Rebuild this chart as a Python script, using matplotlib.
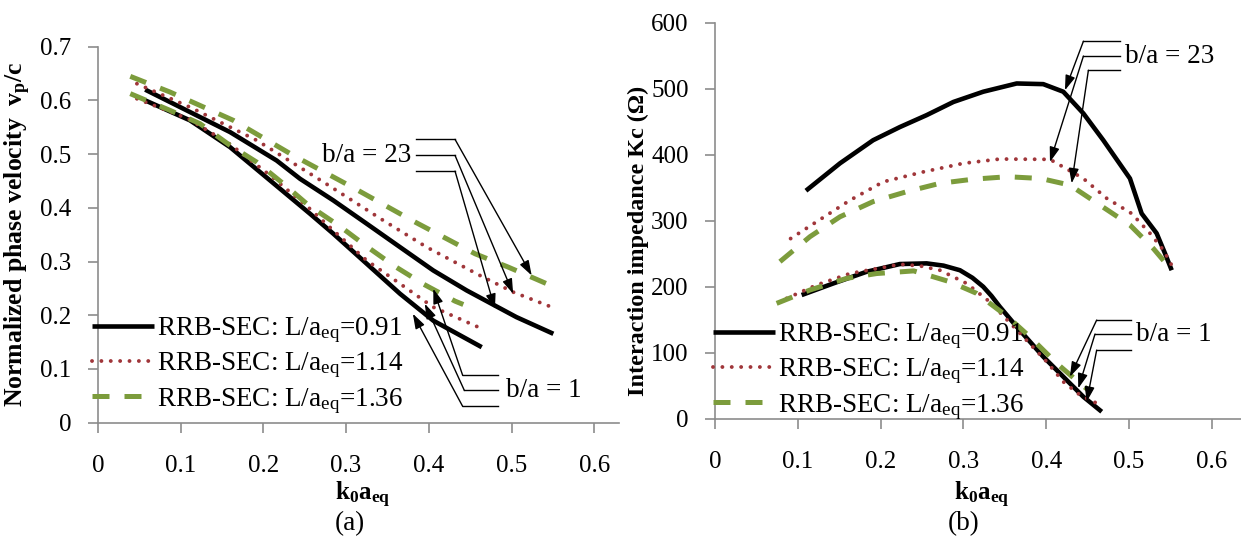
import matplotlib
matplotlib.use("Agg")
import matplotlib.pyplot as plt

plt.rcParams["font.family"] = ["Liberation Serif", "DejaVu Serif"]
plt.rcParams["mathtext.fontset"] = "custom"
plt.rcParams["mathtext.rm"] = "Liberation Serif"
plt.rcParams["mathtext.it"] = "Liberation Serif:italic"
plt.rcParams["mathtext.bf"] = "Liberation Serif:bold"
plt.rcParams["mathtext.default"] = "regular"

# (a) normalized phase velocity, b/a = 23
va23_091_x = [0.057, 0.1596, 0.216, 0.2443, 0.2845, 0.3249, 0.3652, 0.4054, 0.4458, 0.506, 0.5506]
va23_091_y = [0.620, 0.541, 0.488, 0.454, 0.4138, 0.3704, 0.3268, 0.2834, 0.2462, 0.1965, 0.1655]
va23_114_x = [0.047, 0.111, 0.192, 0.2725, 0.345, 0.3974, 0.4619, 0.5022, 0.5506]
va23_114_y = [0.631, 0.5875, 0.5255, 0.448, 0.3765, 0.3268, 0.274, 0.243, 0.214]
va23_136_x = [0.039, 0.087, 0.1636, 0.236, 0.3087, 0.3813, 0.4559, 0.4961, 0.5426]
va23_136_y = [0.6447, 0.6155, 0.5628, 0.4976, 0.4374, 0.3752, 0.3145, 0.2896, 0.2587]
# (a) b/a = 1
va1_091_x = [0.057, 0.1112, 0.1596, 0.208, 0.2563, 0.2845, 0.3249, 0.3652, 0.4054, 0.464]
va1_091_y = [0.600, 0.5628, 0.513, 0.451, 0.389, 0.3518, 0.2959, 0.240, 0.190, 0.1406]
va1_114_x = [0.047, 0.110, 0.160, 0.210, 0.2563, 0.2845, 0.3249, 0.3652, 0.4054, 0.460]
va1_114_y = [0.603, 0.565, 0.518, 0.458, 0.398, 0.3579, 0.302, 0.2587, 0.2151, 0.1778]
va1_136_x = [0.039, 0.087, 0.1233, 0.1596, 0.1919, 0.224, 0.2543, 0.2926, 0.3249, 0.3591, 0.3942, 0.4317, 0.4417]
va1_136_y = [0.6125, 0.5814, 0.5566, 0.5162, 0.485, 0.445, 0.405, 0.3654, 0.3281, 0.2909, 0.2574, 0.2263, 0.220]

# (b) interaction impedance, b/a = 23
kc23_091_x = [0.1099, 0.151, 0.191, 0.2234, 0.2556, 0.288, 0.324, 0.3644, 0.3965, 0.4207, 0.4449, 0.469, 0.5012, 0.5153, 0.5334, 0.5435, 0.5516]
kc23_091_y = [345.5, 387, 422, 442, 460, 480, 495.5, 508, 507, 495.5, 462.7, 422, 364, 311, 281, 250.6, 225]
kc23_114_x = [0.0914, 0.1228, 0.163, 0.2033, 0.2516, 0.300, 0.344, 0.4046, 0.4449, 0.4731, 0.5032, 0.5254, 0.5415, 0.5536]
kc23_114_y = [273, 298.5, 331, 359, 374, 387, 393.5, 393, 364, 334, 311, 281, 255.6, 228]
kc23_136_x = [0.0785, 0.1147, 0.151, 0.191, 0.2315, 0.2717, 0.312, 0.3535, 0.3937, 0.4287, 0.4649, 0.5012, 0.5294, 0.5516]
kc23_136_y = [238, 275.8, 306, 329, 344, 356.7, 363, 366.7, 364, 354, 323.8, 293.5, 258, 225]
# (b) b/a = 1
kc1_091_x = [0.1047, 0.1429, 0.1832, 0.2234, 0.2556, 0.276, 0.2959, 0.311, 0.324, 0.334, 0.344, 0.3644, 0.3965, 0.4247, 0.4449, 0.4671]
kc1_091_y = [187.4, 205, 222.7, 234.4, 235.4, 232, 225, 213.5, 200, 186, 169.7, 139.4, 94, 58.6, 33.3, 10.6]
kc1_114_x = [0.0866, 0.1228, 0.163, 0.2234, 0.248, 0.2717, 0.304, 0.332, 0.3684, 0.4006, 0.4207, 0.4408, 0.463]
kc1_114_y = [182.4, 202.6, 220, 234, 231.5, 225, 205, 177, 129.4, 86.4, 56, 36, 22.3]
kc1_136_x = [0.0745, 0.1147, 0.159, 0.1953, 0.240, 0.2838, 0.316, 0.3535, 0.3804, 0.4127, 0.4408, 0.4509]
kc1_136_y = [174.8, 195, 212.7, 220, 224, 207.5, 190, 154.5, 124, 84, 53.6, 43.5]

legend_labels = ["RRB-SEC: L/a$_{eq}$=0.91", "RRB-SEC: L/a$_{eq}$=1.14", "RRB-SEC: L/a$_{eq}$=1.36"]

RED = "#A0363A"
GREEN = "#7C9C3C"
styles = [
    dict(color="black", lw=3.3, solid_capstyle="butt", solid_joinstyle="round"),
    dict(color=RED, lw=2.8, linestyle=(0, (0.01, 2.4)), dash_capstyle="round"),
    dict(color=GREEN, lw=3.6, linestyle=(0, (3.4, 3.0)), dash_capstyle="butt"),
]

fig = plt.figure(figsize=(12.41, 5.38), dpi=100)
ax1 = fig.add_axes([0.079, 0.2143, 0.4198, 0.699])
ax2 = fig.add_axes([0.5761, 0.2217, 0.4237, 0.736])


def style_axes(ax):
    for s in ("top", "right"):
        ax.spines[s].set_visible(False)
    for s in ("left", "bottom"):
        ax.spines[s].set_color("#8c8c8c")
        ax.spines[s].set_linewidth(1.2)
    ax.tick_params(axis="both", colors="#8c8c8c", labelcolor="black", length=7, width=1.2, labelsize=18)
    ax.tick_params(axis="x", pad=16)
    ax.tick_params(axis="y", pad=12)


def elbow_arrow(ax, start, elbow, tip):
    ax.plot([start[0], elbow[0]], [start[1], elbow[1]], color="black", lw=1.0)
    ax.annotate("", xy=tip, xytext=elbow,
                arrowprops=dict(arrowstyle="-|>,head_length=0.9,head_width=0.3", color="black", lw=1.0,
                                shrinkA=0, shrinkB=0))


# ---- (a) ----
lines = []
for (x, y), st in zip([(va23_091_x, va23_091_y), (va23_114_x, va23_114_y), (va23_136_x, va23_136_y)], styles):
    lines += ax1.plot(x, y, **st)
for (x, y), st in zip([(va1_091_x, va1_091_y), (va1_114_x, va1_114_y), (va1_136_x, va1_136_y)], styles):
    ax1.plot(x, y, **st)
ax1.set_xlim(0, 0.63)
ax1.set_ylim(0, 0.7)
ax1.set_xticks([0, 0.1, 0.2, 0.3, 0.4, 0.5, 0.6])
ax1.set_xticklabels(["0", "0.1", "0.2", "0.3", "0.4", "0.5", "0.6"])
ax1.set_yticks([0, 0.1, 0.2, 0.3, 0.4, 0.5, 0.6, 0.7])
ax1.set_yticklabels(["0", "0.1", "0.2", "0.3", "0.4", "0.5", "0.6", "0.7"])
style_axes(ax1)
ax1.set_xlabel(r"$\mathbf{k_0a_{eq}}$", fontsize=18)
ax1.xaxis.set_label_coords(0.508, -0.152)
ax1.set_ylabel(r"Normalized phase velocity  v$_\mathbf{p}$/c", fontsize=18.5, fontweight="bold")
ax1.yaxis.set_label_coords(-0.124, 0.50)
ax1.legend(lines, legend_labels, loc="center left", bbox_to_anchor=(-0.012, 0.152), frameon=False,
           fontsize=19.5, handlelength=2.3, handletextpad=0.1, labelspacing=0.2, borderpad=0, borderaxespad=0)

ax1.text(0.379, 0.4976, "b/a = 23", fontsize=19.5, ha="right", va="center")
elbow_arrow(ax1, (0.385, 0.5274), (0.4317, 0.5274), (0.5244, 0.2741))
elbow_arrow(ax1, (0.385, 0.4976), (0.4317, 0.4976), (0.502, 0.240))
elbow_arrow(ax1, (0.385, 0.4683), (0.4317, 0.4683), (0.480, 0.212))
ax1.text(0.493, 0.060, "b/a = 1", fontsize=19.5, ha="left", va="center")
elbow_arrow(ax1, (0.4837, 0.0879), (0.441, 0.0879), (0.4054, 0.2493))
elbow_arrow(ax1, (0.4837, 0.060), (0.443, 0.060), (0.3952, 0.2214))
elbow_arrow(ax1, (0.4837, 0.0302), (0.441, 0.0302), (0.3807, 0.2028))

# ---- (b) ----
lines = []
for (x, y), st in zip([(kc23_091_x, kc23_091_y), (kc23_114_x, kc23_114_y), (kc23_136_x, kc23_136_y)], styles):
    lines += ax2.plot(x, y, **st)
for (x, y), st in zip([(kc1_091_x, kc1_091_y), (kc1_114_x, kc1_114_y), (kc1_136_x, kc1_136_y)], styles):
    ax2.plot(x, y, **st)
ax2.set_xlim(0, 0.635)
ax2.set_ylim(0, 600)
ax2.set_xticks([0, 0.1, 0.2, 0.3, 0.4, 0.5, 0.6])
ax2.set_xticklabels(["0", "0.1", "0.2", "0.3", "0.4", "0.5", "0.6"])
ax2.set_yticks([0, 100, 200, 300, 400, 500, 600])
style_axes(ax2)
ax2.set_xlabel(r"$\mathbf{k_0a_{eq}}$", fontsize=18)
ax2.xaxis.set_label_coords(0.507, -0.155)
ax2.set_ylabel("Interaction impedance Kc (Ω)", fontsize=17.4, fontweight="bold")
ax2.yaxis.set_label_coords(-0.126, 0.449)
ax2.legend(lines, legend_labels, loc="center left", bbox_to_anchor=(-0.004, 0.119), frameon=False,
           fontsize=19.5, handlelength=2.3, handletextpad=0.1, labelspacing=0.2, borderpad=0, borderaxespad=0)

ax2.text(0.495, 549.5, "b/a = 23", fontsize=19.5, ha="left", va="center")
elbow_arrow(ax2, (0.489, 572), (0.445, 572), (0.4227, 497.7))
elbow_arrow(ax2, (0.489, 549.5), (0.445, 549.5), (0.4046, 389))
elbow_arrow(ax2, (0.489, 528), (0.451, 528), (0.4308, 356.7))
ax2.text(0.509, 128.3, "b/a = 1", fontsize=19.5, ha="left", va="center")
elbow_arrow(ax2, (0.503, 149.5), (0.461, 149.5), (0.4287, 63.6))
elbow_arrow(ax2, (0.503, 128.3), (0.459, 128.3), (0.4388, 46))
elbow_arrow(ax2, (0.503, 104), (0.461, 104), (0.449, 25.8))

fig.text(0.079 + 0.304 * 0.4198 / 0.63, 0.026, "(a)", fontsize=19.5, ha="center", va="center")
fig.text(0.5761 + 0.30 * 0.4237 / 0.635, 0.026, "(b)", fontsize=19.5, ha="center", va="center")

fig.savefig("out.png", dpi=100)
